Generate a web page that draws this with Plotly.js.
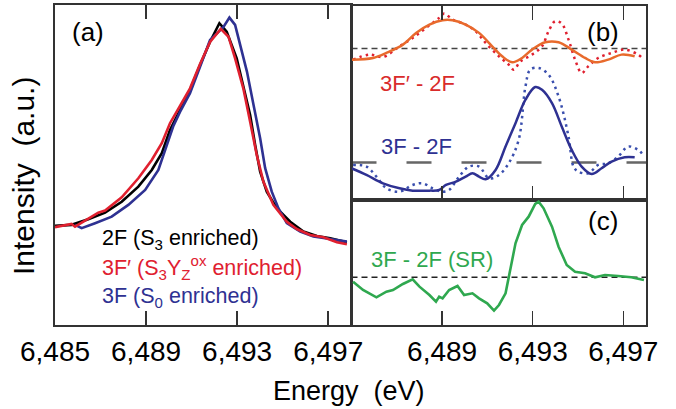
<!DOCTYPE html>
<html>
<head>
<meta charset="utf-8">
<script src="https://cdn.plot.ly/plotly-3.0.1.min.js"></script>
<style>html,body{margin:0;padding:0;background:#fff;}#chart{width:676px;height:409px;}</style>
</head>
<body>
<div id="chart"></div>
<script>
// ---------- Panel (a): XANES spectra ----------
const energy2F = [6485.00,6485.73,6486.46,6487.20,6487.93,6488.66,6489.25,6489.69,6490.05,6490.49,6490.79,6490.93,6491.37,6491.81,6492.22,6492.54,6492.98,6493.27,6493.57,6493.79,6494.01,6494.30,6494.74,6495.33,6495.91,6496.50,6497.09,6497.82];
const intensity2F = [0.035,0.040,0.067,0.098,0.150,0.222,0.301,0.381,0.492,0.587,0.650,0.682,0.801,0.912,1.000,0.960,0.833,0.706,0.563,0.420,0.293,0.198,0.119,0.055,0.008,-0.013,-0.024,-0.043];

const energy3Fp = [6485.00,6485.73,6485.88,6486.46,6486.90,6487.20,6487.93,6488.66,6489.25,6489.69,6490.05,6490.49,6490.93,6491.37,6491.81,6492.28,6492.62,6492.91,6493.27,6493.57,6493.86,6494.15,6494.59,6495.18,6495.62,6496.21,6496.79,6497.38,6497.82];
const intensity3Fp = [0.029,0.044,0.031,0.071,0.098,0.108,0.171,0.262,0.349,0.429,0.524,0.606,0.690,0.806,0.911,0.973,0.936,0.833,0.690,0.531,0.373,0.246,0.135,0.055,0.020,-0.008,-0.019,-0.043,-0.052];

const energy3F = [6485.88,6486.17,6486.76,6487.49,6488.22,6488.96,6489.54,6489.98,6490.20,6490.49,6490.93,6491.37,6491.81,6492.40,6492.66,6492.91,6493.13,6493.43,6493.72,6494.01,6494.23,6494.52,6494.81,6495.18,6495.77,6496.35,6496.94,6497.38,6497.82];
const intensity3F = [0.040,0.024,0.048,0.079,0.135,0.206,0.301,0.444,0.511,0.578,0.667,0.793,0.920,0.983,1.027,0.992,0.897,0.770,0.611,0.452,0.310,0.198,0.119,0.048,0.008,-0.016,-0.025,-0.032,-0.040];

// ---------- Panel (b): difference spectra ----------
const offset3FpMinus2F = 3.41;   // vertical shift of the upper pair in panel (b)
const energyDiffPSmooth = [6485.00,6485.95,6486.54,6487.27,6487.85,6488.44,6489.02,6489.46,6490.04,6490.63,6491.21,6491.65,6492.09,6492.53,6492.97,6493.55,6494.14,6494.72,6495.31,6495.75,6496.33,6496.92,6497.50];
const diffPSmooth = [-0.33,-0.28,-0.13,0.12,0.47,0.72,0.85,0.85,0.72,0.47,0.07,-0.23,-0.41,-0.28,-0.03,0.19,0.19,-0.03,-0.28,-0.41,-0.33,-0.18,-0.23];

const energyDiffPRaw = [6485.07,6485.80,6486.39,6487.12,6487.70,6488.29,6488.87,6489.09,6489.46,6490.04,6490.48,6490.92,6491.51,6491.94,6492.16,6492.46,6492.97,6493.41,6493.70,6493.99,6494.28,6494.58,6494.87,6495.16,6495.45,6495.89,6496.48,6497.06,6497.65,6497.91];
const diffPRaw = [-0.33,-0.18,-0.25,0.07,0.32,0.62,0.92,1.05,0.87,0.72,0.52,0.17,-0.23,-0.48,-0.63,-0.38,-0.18,0.07,0.52,0.82,0.75,0.27,-0.33,-0.73,-0.53,-0.28,-0.13,-0.03,-0.18,-0.33];

const energyDiffSmooth = [6485.00,6485.66,6486.39,6487.12,6487.70,6488.44,6488.87,6489.17,6489.61,6490.04,6490.34,6490.63,6490.92,6491.36,6491.80,6492.24,6492.68,6493.11,6493.41,6493.85,6494.28,6494.72,6495.16,6495.60,6496.04,6496.48,6497.06,6497.50];
const diffSmooth = [-0.17,-0.37,-0.62,-0.77,-0.84,-0.84,-0.82,-0.67,-0.57,-0.42,-0.32,-0.42,-0.50,-0.22,0.48,1.18,1.88,2.26,2.18,1.78,1.08,0.38,-0.12,-0.34,-0.17,0.03,0.16,0.16];

const energyDiffRaw = [6485.07,6485.66,6486.10,6486.54,6487.12,6487.70,6488.14,6488.58,6489.02,6489.31,6489.75,6490.19,6490.63,6491.07,6491.51,6491.94,6492.38,6492.68,6492.89,6493.26,6493.70,6494.14,6494.58,6494.80,6495.01,6495.45,6495.89,6496.33,6496.77,6497.21,6497.65,6497.87];
const diffRaw = [-0.07,-0.12,-0.42,-0.77,-0.87,-0.67,-0.62,-0.77,-0.87,-0.82,-0.42,-0.12,-0.12,-0.47,-0.37,-0.02,0.68,2.28,2.78,2.83,2.63,1.98,0.78,-0.12,-0.27,-0.32,-0.07,-0.02,0.18,0.48,0.38,0.23];

// ---------- Panel (c): SR difference ----------
const energySR = [6485.07,6485.51,6486.10,6486.54,6486.83,6487.27,6487.70,6488.00,6488.44,6488.73,6488.87,6489.02,6489.31,6489.68,6489.97,6490.34,6490.63,6490.99,6491.29,6491.51,6491.80,6492.02,6492.24,6492.53,6492.82,6493.11,6493.26,6493.48,6493.85,6494.14,6494.50,6494.87,6495.31,6495.75,6496.19,6496.77,6497.35,6497.91];
const diffSR = [-0.13,-0.38,-0.60,-0.43,-0.38,-0.20,-0.06,-0.28,-0.53,-0.73,-0.58,-0.63,-0.38,-0.26,-0.53,-0.48,-0.63,-0.78,-1.00,-0.83,-0.48,0.32,1.02,1.57,1.82,2.20,2.27,2.07,1.52,0.92,0.37,0.17,0.12,0.00,0.07,0.04,0.00,-0.08];

const tickValsA = [6485, 6489, 6493, 6497];
const tickTextA = ['6,485', '6,489', '6,493', '6,497'];
const tickValsR = [6489, 6493, 6497];
const tickTextR = ['6,489', '6,493', '6,497'];

const FONT = 'Liberation Sans, Arial, Helvetica, sans-serif';
const W = 676, H = 409;
const px = v => v / W, py = v => 1 - v / H;

const traces = [
  {x: energy2F, y: intensity2F, xaxis: 'x', yaxis: 'y', mode: 'lines', line: {color: '#000000', width: 2.6}},
  {x: energy3F, y: intensity3F, xaxis: 'x', yaxis: 'y', mode: 'lines', line: {color: '#2e3192', width: 2.6}},
  {x: energy3Fp, y: intensity3Fp, xaxis: 'x', yaxis: 'y', mode: 'lines', line: {color: '#e0202f', width: 2.6}},

  {x: energyDiffPRaw, y: diffPRaw.map(v => v + offset3FpMinus2F), xaxis: 'x2', yaxis: 'y2', mode: 'lines', line: {color: '#e0202f', width: 2.5, dash: '2.5px,4px', shape: 'spline'}},
  {x: energyDiffPSmooth, y: diffPSmooth.map(v => v + offset3FpMinus2F), xaxis: 'x2', yaxis: 'y2', mode: 'lines', line: {color: '#e86a2c', width: 2.5, shape: 'spline'}},
  {x: energyDiffRaw, y: diffRaw, xaxis: 'x2', yaxis: 'y2', mode: 'lines', line: {color: '#3a4fae', width: 2.5, dash: '2.5px,4px', shape: 'spline'}},
  {x: energyDiffSmooth, y: diffSmooth, xaxis: 'x2', yaxis: 'y2', mode: 'lines', line: {color: '#2e3192', width: 2.5, shape: 'spline'}},

  {x: energySR, y: diffSR, xaxis: 'x3', yaxis: 'y3', mode: 'lines', line: {color: '#2fa84f', width: 2.6}}
];

const axisLine = {showline: true, linewidth: 2, linecolor: '#333', zeroline: false, showgrid: false};
const xTicks = {ticks: 'inside', ticklen: 14, tickwidth: 1.5, tickcolor: '#333', tickfont: {family: FONT, size: 28, color: '#000'}};

const layout = {
  width: W, height: H,
  margin: {l: 0, r: 0, t: 0, b: 0},
  paper_bgcolor: '#fff', plot_bgcolor: 'rgba(0,0,0,0)',
  showlegend: false,
  font: {family: FONT, color: '#000'},
  xaxis: Object.assign({}, axisLine, xTicks, {domain: [px(55), px(351)], range: [6485, 6498], anchor: 'y', mirror: 'ticks', tickvals: tickValsA, ticktext: tickTextA}),
  yaxis: Object.assign({}, axisLine, {domain: [py(325), py(5)], range: [-0.437, 1.087], anchor: 'x', mirror: true, showticklabels: false, ticks: ''}),
  xaxis2: Object.assign({}, axisLine, xTicks, {domain: [px(351.5), px(646)], range: [6485, 6498], anchor: 'y2', mirror: 'ticks', tickvals: tickValsR, showticklabels: false}),
  yaxis2: Object.assign({}, axisLine, {domain: [py(200), py(5.5)], range: [-1.12, 4.70], anchor: 'x2', mirror: true, showticklabels: false, ticks: ''}),
  xaxis3: Object.assign({}, axisLine, xTicks, {domain: [px(351.5), px(646)], range: [6485, 6498], anchor: 'y3', mirror: true, tickvals: tickValsR, ticktext: tickTextR}),
  yaxis3: Object.assign({}, axisLine, {domain: [py(325), py(200)], range: [-1.43, 2.32], anchor: 'x3', mirror: true, showticklabels: false, ticks: ''}),
  shapes: [
    {type: 'line', xref: 'x2 domain', yref: 'y2', x0: 0, x1: 1, y0: offset3FpMinus2F, y1: offset3FpMinus2F, line: {color: '#444', width: 1.5, dash: '6px,4px'}, layer: 'below'},
    {type: 'line', xref: 'x2 domain', yref: 'y2', x0: 0, x1: 1, y0: 0, y1: 0, line: {color: '#666', width: 2.5, dash: '25px,30px'}, layer: 'below'},
    {type: 'line', xref: 'x3 domain', yref: 'y3', x0: 0, x1: 1, y0: 0, y1: 0, line: {color: '#222', width: 1.5, dash: '6px,4px'}, layer: 'below'}
  ],
  annotations: [
    {xref: 'paper', yref: 'paper', x: px(70), y: py(32), xanchor: 'left', yanchor: 'middle', text: '(a)', showarrow: false, font: {family: FONT, size: 26, color: '#000'}},
    {xref: 'paper', yref: 'paper', x: px(585), y: py(32), xanchor: 'left', yanchor: 'middle', text: '(b)', showarrow: false, font: {family: FONT, size: 26, color: '#000'}},
    {xref: 'paper', yref: 'paper', x: px(586), y: py(221), xanchor: 'left', yanchor: 'middle', text: '(c)', showarrow: false, font: {family: FONT, size: 26, color: '#000'}},
    {xref: 'paper', yref: 'paper', x: px(100), y: py(239), xanchor: 'left', yanchor: 'middle', text: '2F (S<sub>3</sub> enriched)', showarrow: false, font: {family: FONT, size: 21.5, color: '#000'}},
    {xref: 'paper', yref: 'paper', x: px(100), y: py(267), xanchor: 'left', yanchor: 'middle', text: '3F\u2032 (S<sub>3</sub>Y<sub>Z</sub><sup>ox</sup> enriched)', showarrow: false, font: {family: FONT, size: 21.5, color: '#e0202f'}},
    {xref: 'paper', yref: 'paper', x: px(100), y: py(297), xanchor: 'left', yanchor: 'middle', text: '3F (S<sub>0</sub> enriched)', showarrow: false, font: {family: FONT, size: 21.5, color: '#2e3192'}},
    {xref: 'paper', yref: 'paper', x: px(378), y: py(83), xanchor: 'left', yanchor: 'middle', text: '3F\u2032 - 2F', showarrow: false, font: {family: FONT, size: 22, color: '#d92b2b'}},
    {xref: 'paper', yref: 'paper', x: px(379), y: py(146), xanchor: 'left', yanchor: 'middle', text: '3F - 2F', showarrow: false, font: {family: FONT, size: 22, color: '#2e3192'}},
    {xref: 'paper', yref: 'paper', x: px(369), y: py(259), xanchor: 'left', yanchor: 'middle', text: '3F - 2F (SR)', showarrow: false, font: {family: FONT, size: 22, color: '#2fa84f'}},
    {xref: 'paper', yref: 'paper', x: px(348.5), y: py(391), xanchor: 'center', yanchor: 'middle', text: 'Energy\u00a0\u00a0(eV)', showarrow: false, font: {family: FONT, size: 27, color: '#000'}},
    {xref: 'paper', yref: 'paper', x: px(23), y: py(176), xanchor: 'center', yanchor: 'middle', textangle: -90, text: 'Intensity\u00a0\u00a0(a.u.)', showarrow: false, font: {family: FONT, size: 30, color: '#000'}}
  ]
};

Plotly.newPlot('chart', traces, layout, {staticPlot: true, displayModeBar: false});
</script>
</body>
</html>
